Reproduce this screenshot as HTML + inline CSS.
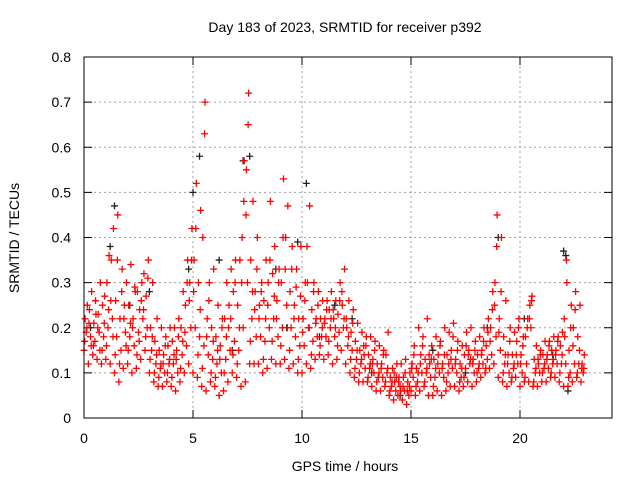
<!DOCTYPE html>
<html><head><meta charset="utf-8"><style>
body{margin:0;background:#fff;}
svg{display:block;font-family:"Liberation Sans",sans-serif;}
</style></head><body>
<svg id="chart" width="640" height="480">
<text x="345" y="32" font-size="14" text-anchor="middle">Day 183 of 2023, SRMTID for receiver p392</text>
<text x="345" y="471" font-size="14" text-anchor="middle">GPS time / hours</text>
<text transform="translate(19,238) rotate(-90)" font-size="14" text-anchor="middle">SRMTID / TECUs</text>
<g id="grid"></g>
<g id="ticks"></g>
<g id="black"></g>
<g id="red"></g>
<rect x="84" y="57" width="528" height="361" fill="none" stroke="#000" stroke-width="1"/>
</svg>
<script>
const xTicks=[0,5,10,15,20];
const yTicks=[0,0.1,0.2,0.3,0.4,0.5,0.6,0.7,0.8];
const yTickLabels=["0","0.1","0.2","0.3","0.4","0.5","0.6","0.7","0.8"];
const redLow=[.15,.12,.14,.13,.12, .13,.12,.10,.08,.11, .12,.10,.11,.13,.15, .10,.08,.07,.07,.08, .07,.06,.08,.10,.12, .10,.09,.07,.06,.08, .07,.05,.06,.08,.10, .09,.07,.08,.12,.12, .12,.10,.11,.13,.12, .12,.13,.11,.12,.10, .10,.12,.11,.13,.14, .13,.14,.12,.13,.15, .12,.10,.09,.08,.08, .08,.07,.06,.06,.07, .05,.04,.05,.04,.03, .06,.05,.06,.07,.05, .05,.06,.05,.06,.07, .07,.06,.07,.08,.07, .08,.09,.10,.11,.12, .09,.08,.07,.08,.09, .07,.08,.08,.07,.07, .08,.08,.09,.09,.08, .07,.07,.08,.09,.08];
const redMidLow=[.19,.18,.17,.19,.18, .20,.22,.18,.15,.19, .18,.16,.19,.22,.20, .15,.12,.11,.10,.12, .12,.10,.14,.16,.20, .20,.18,.16,.14,.13, .12,.10,.13,.15,.17, .15,.20,.30,.22,.18, .18,.17,.20,.22,.18, .20,.25,.20,.18,.16, .16,.20,.17,.18,.18, .18,.20,.18,.19,.20, .16,.15,.13,.12,.11, .11,.10,.09,.09,.10, .07,.06,.07,.06,.05, .09,.08,.10,.10,.09, .09,.10,.09,.10,.11, .10,.09,.11,.12,.10, .11,.12,.13,.14,.18, .15,.12,.10,.11,.12, .10,.12,.20,.10,.10, .11,.11,.12,.12,.12, .12,.10,.12,.12,.10];
const redMidHigh=[.22,.24,.21,.23,.25, .30,.35,.26,.22,.25, .25,.22,.28,.30,.27, .20,.17,.15,.14,.16, .17,.15,.20,.25,.30, .35,.30,.40,.22,.20, .18,.16,.22,.25,.28, .25,.40,.55,.35,.28, .25,.26,.30,.32,.26, .30,.40,.28,.25,.22, .22,.30,.24,.22,.22, .22,.24,.22,.23,.25, .20,.19,.17,.15,.14, .14,.13,.12,.12,.14, .09,.08,.09,.09,.08, .12,.11,.14,.13,.12, .13,.14,.12,.14,.15, .13,.12,.14,.15,.13, .14,.15,.16,.20,.30, .22,.18,.14,.14,.17, .14,.18,.25,.13,.12, .14,.14,.15,.15,.16, .18,.15,.20,.18,.12];
const redHigh=[.25,.28,.23,.30,.27, .36,.42,.45,.33,.30, .34,.28,.24,.32,.35, .30,.22,.20,.18,.20, .20,.22,.28,.35,.42, .52,.46,.70,.30,.33, .25,.22,.30,.33,.35, .35,.57,.72,.48,.40, .30,.35,.48,.38,.33, .53,.47,.38,.33,.38, .30,.47,.30,.28,.26, .26,.28,.26,.30,.33, .26,.24,.21,.19,.18, .18,.17,.16,.15,.19, .11,.12,.12,.13,.10, .16,.20,.18,.22,.16, .18,.17,.20,.19,.21, .17,.16,.19,.20,.17, .18,.20,.22,.28,.45, .40,.26,.20,.19,.22, .18,.22,.27,.16,.15, .17,.17,.18,.18,.19, .30,.25,.28,.25,.14];
const redExtraA=[.17,.21,.16,.20,.15, .16,.26,.14,.12,.22, .15,.20,.14,.26,.18, .13,.10,.09,.12,.10, .09,.13,.11,.19,.26, .28,.14,.11,.18,.10, .09,.13,.10,.20,.14, .12,.30,.45,.17,.24, .22,.13,.25,.17,.22, .16,.33,.15,.22,.13, .19,.38,.14,.21,.16, .21,.17,.24,.16,.28, .22,.13,.11,.10,.16, .09,.12,.08,.11,.08, .06,.10,.08,.07,.06, .11,.07,.12,.08,.14, .07,.12,.11,.08,.13, .12,.08,.09,.14,.12, .10,.14,.11,.17,.25, .19,.10,.12,.09,.14, .12,.09,.22,.08,.13, .10,.13,.10,.14,.10, .22,.09,.16,.10,.11];
const redExtraB=[.20,.16,.26,.15,.21, .24,.18,.35,.28,.16, .21,.29,.17,.24,.31, .18,.14,.12,.16,.13, .14,.18,.17,.30,.35, .42,.24,.63,.26,.17, .15,.20,.18,.22,.30, .20,.48,.65,.28,.33, .28,.22,.35,.27,.30, .40,.20,.33,.29,.27, .26,.20,.28,.25,.20, .24,.22,.20,.26,.22, .18,.21,.15,.13,.16, .12,.15,.10,.14,.11, .08,.09,.06,.10,.07, .14,.10,.16,.11,.13, .11,.16,.14,.12,.18, .15,.11,.16,.13,.15, .12,.17,.19,.24,.38, .28,.14,.17,.12,.20, .16,.20,.26,.11,.14, .12,.16,.13,.17,.14, .35,.20,.24,.15,.11];
const blackTimes=[0.3,1.2,1.4,2.1,3.0,4.8,5.0,5.3,6.2,6.8,7.3,7.6,8.8,9.3,9.8,10.2,10.8,11.5,12.3,13.2,14.5,16.0,17.5,18.5,19.0,20.2,21.5,22.0,22.1,22.2];
const blackValues=[.20,.38,.47,.25,.28,.33,.50,.58,.35,.15,.57,.58,.33,.20,.39,.52,.18,.25,.22,.10,.05,.15,.10,.20,.40,.22,.14,.37,.36,.06];

const X0=84,X1=612,Y0=418,Y1=57;
const pxPerHour=(302-84)/10;
const xMax=(X1-X0)/pxPerHour;
function xs(t){return X0+t/xMax*(X1-X0);}
function ys(v){return Y0-v/0.8*(Y0-Y1);}
const NS="http://www.w3.org/2000/svg";
function mk(tag,attrs,parent){const e=document.createElementNS(NS,tag);for(const k in attrs)e.setAttribute(k,attrs[k]);parent.appendChild(e);return e;}
const grid=document.getElementById('grid'),ticks=document.getElementById('ticks');
xTicks.forEach(t=>{
  const x=xs(t);
  if(t>0){const g=mk('line',{x1:x,x2:x,y1:Y0,y2:Y1,stroke:'#a0a0a0','stroke-dasharray':'2,3'},grid);
  
  }
  const a=mk('line',{x1:x,x2:x,y1:Y0,y2:Y0-8,stroke:'#000'},ticks);
  
  
  const b=mk('line',{x1:x,x2:x,y1:Y1,y2:Y1+8,stroke:'#000'},ticks);
  
  
  const l=mk('text',{x:x,y:443,'font-size':14,'text-anchor':'middle'},ticks);l.textContent=String(t);
  
  
});
yTicks.forEach((v,i)=>{
  const y=ys(v);
  if(v>0&&v<0.8){const g=mk('line',{x1:X0,x2:X1,y1:y,y2:y,stroke:'#a0a0a0','stroke-dasharray':'2,3'},grid);
  
  }
  const a=mk('line',{x1:X0,x2:X0+8,y1:y,y2:y,stroke:'#000'},ticks);
  
  
  const b=mk('line',{x1:X1,x2:X1-8,y1:y,y2:y,stroke:'#000'},ticks);
  
  
  const l=mk('text',{x:71,y:y+5,'font-size':14,'text-anchor':'end'},ticks);l.textContent=yTickLabels[i];
  
  
});
function plus(t,v,color,parent,name){
  const x=xs(t),y=ys(v);
  const p=mk('path',{d:`M${x-3.5},${y}h7M${x},${y-3.5}v7`,stroke:color,'stroke-width':1.3,fill:'none'},parent);
  
  
}
const blk=document.getElementById('black');
blackTimes.forEach((t,i)=>plus(t,blackValues[i],'#222',blk,'black-point'));
const red=document.getElementById('red');
const series=[[redLow,0],[redMidLow,0.1],[redMidHigh,0.05],[redHigh,0.15],[redExtraA,0.03],[redExtraB,0.13]];
series.forEach(([arr,dt])=>arr.forEach((v,i)=>plus(i*0.2+dt,v,'#ff0000',red,'red-point')));
</script>
</body></html>
